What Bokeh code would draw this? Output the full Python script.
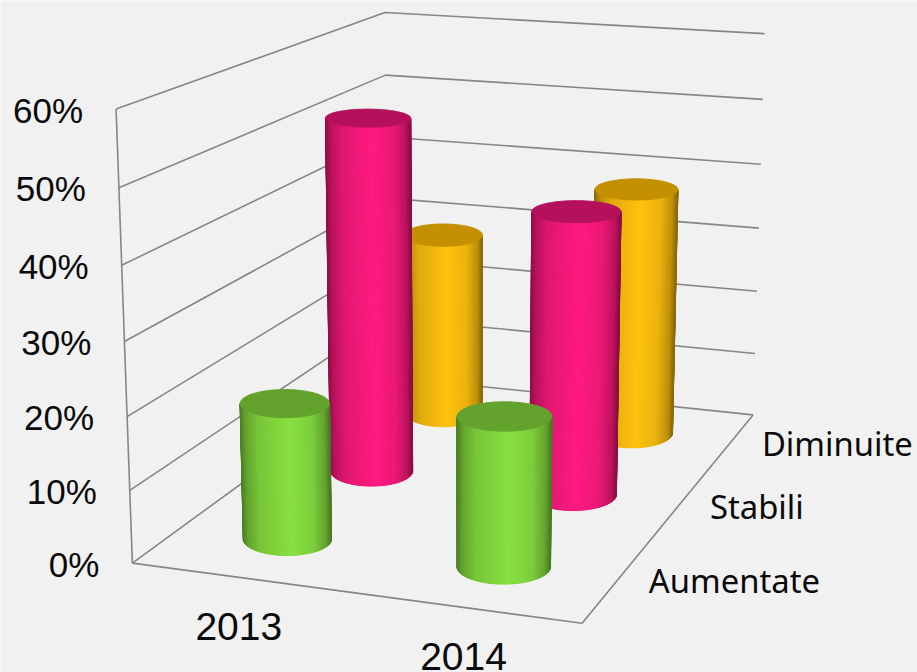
import numpy as np
from bokeh.core.properties import value
from bokeh.embed import file_html
from bokeh.models import ColumnDataSource
from bokeh.plotting import figure
from bokeh.resources import INLINE

# Chart content
years = ["2013", "2014"]
series = ["Aumentate", "Stabili", "Diminuite"]
aumentate = [19, 20.5]
stabili = [52, 41]
diminuite = [28.5, 38]
tick_values = [0, 10, 20, 30, 40, 50, 60]
tick_labels = ["0%", "10%", "20%", "30%", "40%", "50%", "60%"]

# Styling
PAPER = "#f1f1f1"
FRAME = "#868686"
INK = "#0a0a0a"
NUMBER_FONT = "Liberation Sans"
NAME_FONT = "Noto Sans"
# body highlight, top cap colour
PALETTE = {
    "Aumentate": ((136, 224, 64), "#63a22c"),
    "Stabili": ((255, 26, 128), "#b5105c"),
    "Diminuite": ((255, 194, 14), "#c48f00"),
}
# Base ellipse: half width against the slot width on the page, then flatness
WIDTH_RATIO = 0.208
FLATNESS = 0.37

# Where the chart box sits on the page: (year slot, series slot, percent) -> (x, y)
BOX_ANCHORS = [
    ((0, 0, 0), (131, 562)), ((2, 0, 0), (582, 623)),
    ((2, 3, 0), (752, 414)), ((0, 3, 0), (388, 378)),
    ((0, 0, 60), (115, 109)), ((0, 3, 60), (384, 13)),
    ((2, 3, 60), (765, 33)), ((0, 0, 30), (125, 341)),
    ((2, 3, 30), (758, 228)), ((0, 3, 30), (386, 195)),
]


def fit_camera(anchors):
    """Least-squares perspective camera through the box anchors."""
    rows = []
    for (u, v, h), (x, y) in anchors:
        w = (u, v, h / 20.0, 1.0)
        x, y = x / 100.0, y / 100.0
        rows.append([*w, 0, 0, 0, 0, *[-x * c for c in w]])
        rows.append([0, 0, 0, 0, *w, *[-y * c for c in w]])
    return np.linalg.svd(np.array(rows))[2][-1].reshape(3, 4)


CAMERA = fit_camera(BOX_ANCHORS)


def project(u, v, h):
    u, v, h = np.broadcast_arrays(np.asarray(u, float), np.asarray(v, float), np.asarray(h, float))
    pts = CAMERA @ np.stack([u, v, h / 20.0, np.ones_like(u)])
    return pts[0] / pts[2] * 100.0, pts[1] / pts[2] * 100.0


def shade(rgb, s):
    """Cylinder lighting for s across the body, 0 at left and 1 at right."""
    k = np.interp(s, [0, 0.06, 0.2, 0.55, 0.8, 0.94, 1], [0.55, 0.72, 0.88, 1.0, 0.92, 0.74, 0.55])
    return "#%02x%02x%02x" % tuple(int(round(c * k)) for c in rgb)


def footprint(u, v):
    """Slot offsets of a bar's round base, level on the page at floor height."""
    eps = 0.01
    x0, y0 = project(u, v, 0)
    xu, yu = project(u + eps, v, 0)
    xv, yv = project(u, v + eps, 0)
    jac = np.array([[xu - x0, xv - x0], [yu - y0, yv - y0]]) / eps
    half_w = WIDTH_RATIO * np.hypot(*jac[:, 0])
    t = np.linspace(0, 2 * np.pi, 181)[:-1]
    screen = np.stack([half_w * np.cos(t), FLATNESS * half_w * np.sin(t)])
    return np.linalg.solve(jac, screen)


def cylinder(p, u, v, h, rgb, top):
    du, dv = footprint(u, v)
    cu, cv = u + du, v + dv
    bx, by = project(cu, cv, 0)
    tx, ty = project(cu, cv, h)
    left, right = int(np.argmin(bx)), int(np.argmax(bx))
    # walk the near side of the base from the left silhouette to the right one
    n = len(cu)
    arc_a = [(left + i) % n for i in range((right - left) % n + 1)]
    arc_b = [(left - i) % n for i in range((left - right) % n + 1)]
    arc = arc_a if by[arc_a].mean() > by[arc_b].mean() else arc_b
    xs, ys, colors = [], [], []
    span = bx[right] - bx[left]
    for a, b in zip(arc[:-1], arc[1:]):
        xs.append([bx[a], bx[b], tx[b], tx[a]])
        ys.append([by[a], by[b], ty[b], ty[a]])
        colors.append(shade(rgb, ((bx[a] + bx[b]) / 2 - bx[left]) / span))
    src = ColumnDataSource(dict(xs=xs, ys=ys, c=colors))
    p.patches("xs", "ys", source=src, fill_color="c", line_color="c", line_width=1)
    p.patch(tx, ty, fill_color=top, line_color=top, line_width=1)


p = figure(width=917, height=672, x_range=(0, 917), y_range=(672, 0),
           output_backend="svg", toolbar_location=None, min_border=0,
           background_fill_color=PAPER, border_fill_color=PAPER, outline_line_color=None)
p.axis.visible = False
p.grid.visible = False

# Walls and floor
n_u, n_v = len(years), len(series)
for tick in tick_values:
    x, y = project([0, 0, n_u], [0, n_v, n_v], tick)
    p.line(x, y, line_color=FRAME, line_width=1.6)
x, y = project([0, n_u, n_u], [0, 0, n_v], 0)
p.line(x, y, line_color=FRAME, line_width=1.6)
x, y = project([0, 0], [0, 0], [0, 60])
p.line(x, y, line_color=FRAME, line_width=1.6)

# Cylinders, back row first
table = {"Aumentate": aumentate, "Stabili": stabili, "Diminuite": diminuite}
for j in reversed(range(n_v)):
    name = series[j]
    rgb, top = PALETTE[name]
    for i, val in enumerate(table[name]):
        cylinder(p, i + 0.5, j + 0.5, val, rgb, top)

# Labels
tx, ty = project(np.zeros(len(tick_values)), 0, tick_values)
p.text(tx - 33, ty + 1, text=tick_labels, text_font=value(NUMBER_FONT), text_font_size="35px",
       text_align="right", text_baseline="alphabetic", text_color=INK)
tx, ty = project(np.arange(n_u) + 0.5, 0, 0)
p.text(tx - 1, ty + 49, text=years, text_font=value(NUMBER_FONT), text_font_size="39px",
       text_align="center", text_baseline="alphabetic", text_color=INK)
tx, ty = project(n_u, np.arange(n_v) + 0.5, 0)
p.text(tx + 32, ty + 0, text=series, text_font=value(NAME_FONT), text_font_size="32.8px",
       text_align="left", text_baseline="alphabetic", text_color=INK)

open("out.html", "w").write(file_html(p, INLINE))
